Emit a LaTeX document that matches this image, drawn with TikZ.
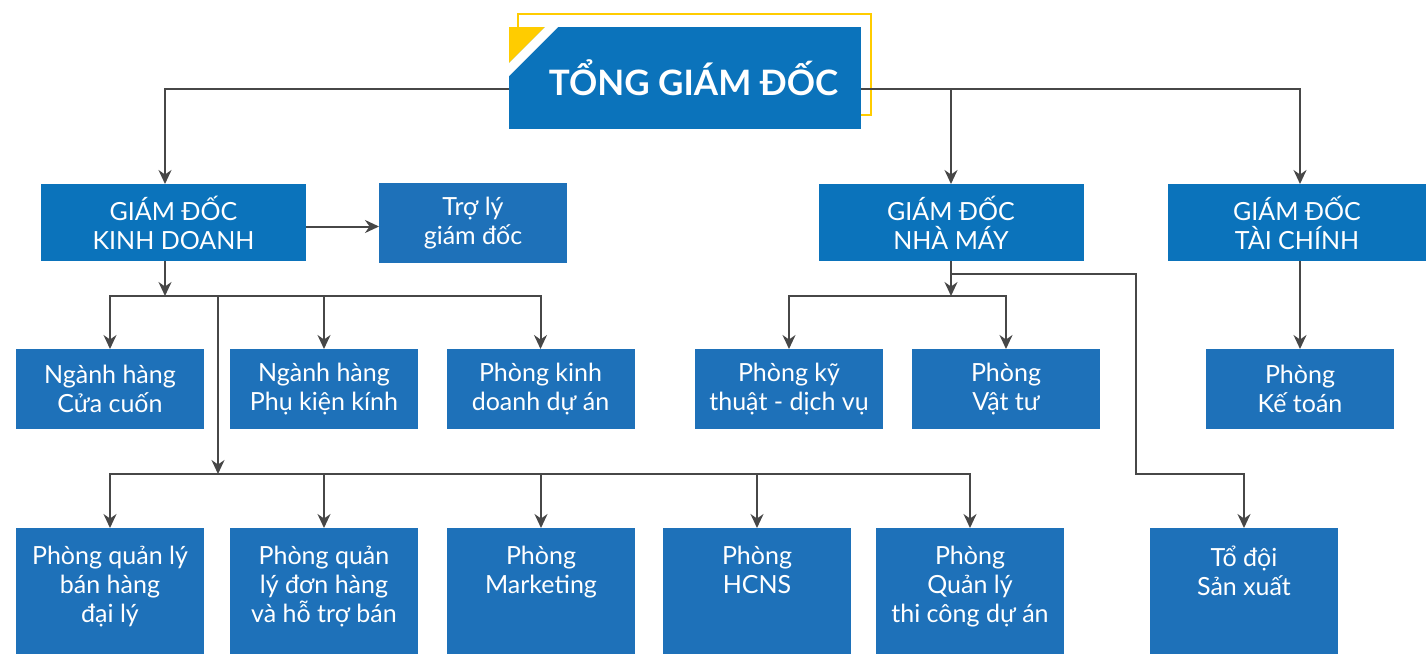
\documentclass[tikz,border=0pt]{standalone}
\usepackage{fontspec}
\setmainfont{Lato}
\usetikzlibrary{arrows.meta}
\definecolor{gdblue}{HTML}{0B73BB}
\definecolor{pblue}{HTML}{1E71B9}
\definecolor{linegray}{HTML}{474747}
\definecolor{ceoyellow}{HTML}{FFCC00}

\begin{document}
\begin{tikzpicture}[x=1pt,y=-1pt,>={Stealth[length=14pt,width=13pt]},
    line/.style={draw=linegray,line width=2pt},
    box/.style={rectangle,fill=pblue,text=white,inner sep=0pt,outer sep=0pt,
                align=center,font=\fontsize{25}{29}\selectfont,
                minimum width=188pt,minimum height=80pt},
    gdbox/.style={box,fill=gdblue,minimum width=265pt,minimum height=77pt},
    lowbox/.style={box,minimum height=126pt,
                label={[anchor=north,yshift=-18pt,inner sep=0pt,text=white,align=center,
                        font=\fontsize{25}{29}\selectfont]north:#1}}]
      \useasboundingbox (0,0) rectangle (1426,654);

      % top box
      \draw[ceoyellow,line width=2.5pt] (518,14) rectangle (871,115);
      \node[gdbox,minimum width=352pt,minimum height=102pt,
            font=\fontsize{35}{40}\selectfont\bfseries] (ceo) at (685,78)
            {\hspace*{17pt}TỔNG GIÁM ĐỐC};
      \fill[ceoyellow] (ceo.north west) -- ++(36,0) -- ++(-36,36) -- cycle;
      \fill[white] ([xshift=36pt]ceo.north west) -- ++(13,0) -- ++(-49,49) -- ++(0,-13) -- cycle;

      % directors
      \node[gdbox]                    (kd)  at (173.5,222.5) {GIÁM ĐỐC\\KINH DOANH};
      \node[box]                      (trl) at (473,223)     {Trợ lý\\giám đốc};
      \node[gdbox]                    (nm)  at (951,222.5)   {GIÁM ĐỐC\\NHÀ MÁY};
      \node[gdbox,minimum width=258pt](tc)  at (1297,222.5)  {GIÁM ĐỐC\\TÀI CHÍNH};

      % departments
      \node[box] (ccuon) at (110,389)   {Ngành hàng\\Cửa cuốn};
      \node[box] (pkk)   at (324,389)   {Ngành hàng\\Phụ kiện kính};
      \node[box] (pkd)   at (540.5,389) {Phòng kinh\\doanh dự án};
      \node[box] (pkt)   at (789,389)   {Phòng kỹ\\thuật - dịch vụ};
      \node[box] (pvt)   at (1006,389)  {Phòng\\Vật tư};
      \node[box] (kt)    at (1300,389)  {Phòng\\Kế toán};

      \node[lowbox={Phòng quản lý\\bán hàng\\đại lý}]          (qlbh)  at (110,591)  {};
      \node[lowbox={Phòng quản\\lý đơn hàng\\và hỗ trợ bán}]   (qldh)  at (324,591)  {};
      \node[lowbox={Phòng\\Marketing}]                         (mkt)   at (541,591)  {};
      \node[lowbox={Phòng\\HCNS}]                              (hcns)  at (757,591)  {};
      \node[lowbox={Phòng\\Quản lý\\thi công dự án}]           (tcda)  at (970,591)  {};
      \node[lowbox={Tổ đội\\Sản xuất}]                         (todoi) at (1244,591) {};

      \coordinate (kdbus)  at (165,296);
      \coordinate (kdbus2) at (218,474);
      \coordinate (nmbus)  at (951,296);
      \coordinate (nmjog)  at (1136,474);

      % connectors
      \path[line,->] ([yshift=-11pt]ceo.west) -| ([xshift=-8.5pt]kd.north);
      \path[line,->] ([yshift=-11pt]ceo.east) -| (nm.north);
      \path[line,->] ([yshift=-11pt]ceo.east) -| (kt.north |- tc.north);
      \path[line,->] ([yshift=-4pt]kd.east) -- ([yshift=-4pt]kd.east -| trl.west);

      \path[line,->] ([xshift=-8.5pt]kd.south) -- (kdbus);
      \path[line,->] (kdbus) -| (ccuon.north);
      \path[line,->] (kdbus) -| (pkk.north);
      \path[line,->] (kdbus) -| (pkd.north);
      \path[line,->] (kdbus2 |- kdbus) -- (kdbus2);
      \path[line,->] (kdbus2) -| (qlbh.north);
      \path[line,->] (kdbus2) -| (qldh.north);
      \path[line,->] (kdbus2) -| (mkt.north);
      \path[line,->] (kdbus2) -| (hcns.north);
      \path[line,->] (kdbus2) -| (tcda.north);

      \path[line,->] (nm.south) -- (nmbus);
      \path[line,->] (nmbus) -| (pkt.north);
      \path[line,->] (nmbus) -| (pvt.north);
      \path[line,->] ([yshift=-13pt]nm.south) -| (nmjog) -| (todoi.north);

      \path[line,->] (kt.north |- tc.south) -- (kt.north);
\end{tikzpicture}
\end{document}
